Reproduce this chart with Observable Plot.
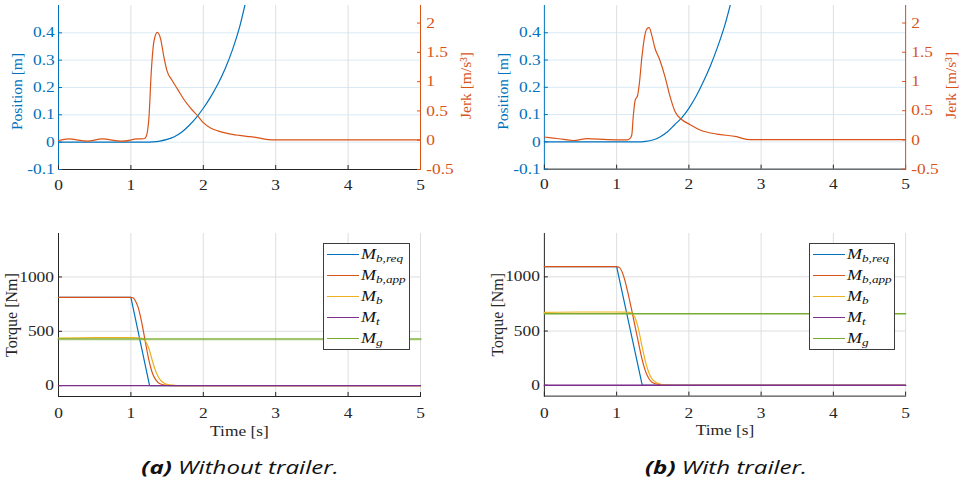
<!DOCTYPE html>
<html><head><meta charset="utf-8">
<script src="https://cdn.jsdelivr.net/npm/d3@7"></script>
<script src="https://cdn.jsdelivr.net/npm/@observablehq/plot@0.6"></script>
<style>
body{margin:0;background:#fff;}
#root{position:relative;width:965px;height:478px;overflow:hidden;font-family:"Liberation Serif",serif;background:#fff;}
#root svg, #root svg text{font-family:"Liberation Serif",serif !important;}
.pane{position:absolute;}
.legend{position:absolute;border:1px solid #3c3c3c;background:#fff;box-sizing:border-box;}
.row{position:absolute;left:0;height:21px;width:100%;}
.sw{position:absolute;left:3px;width:32px;height:1.2px;top:10px;}
.lt{position:absolute;left:37px;top:0;line-height:21px;font-family:"Liberation Serif",serif;font-style:italic;font-size:15px;color:#111;white-space:nowrap;transform:scaleX(1.2);transform-origin:left center;}
.lt sub{font-size:11px;vertical-align:-3px;}
.cap{position:absolute;font-family:"Open Sans",sans-serif;font-style:italic;font-size:18.5px;color:#111;transform:translate(-50%,-50%) scaleX(1.3);white-space:nowrap;}
</style></head><body><div id="root"></div>
<script>
// ---- colours ----
const BLUE="#0072BD", ORANGE="#D95319", YELLOW="#EDB120", PURPLE="#7E2F8E", GREEN="#77AC30";
const AXC="#262626";

// ---- ticks & domains ----
const xTicks=[0,1,2,3,4,5];
const xGrid=[1,2,3,4,5];
const posTicks=[-0.1,0,0.1,0.2,0.3,0.4];
const jerkTicks=[-0.5,0,0.5,1,1.5,2];
const torqueTicks=[0,500,1000];
const posDomain=[-0.1,0.5];
const jerkDomain=[-0.5,2.3];
const torqueDomain=[-100,1400];

// ---- (a) without trailer: position & jerk ----
const posTimeA=[0,1.2,1.3,1.4,1.5,1.6,1.7,1.8,1.9,2.0,2.1,2.2,2.3,2.4,2.5,2.6,2.7];
const posA=[0,0,0.001,0.004,0.01,0.02,0.036,0.06,0.089,0.124,0.165,0.212,0.268,0.336,0.42,0.53,0.65];
const jerkTimeA=[0,0.14,0.4,0.6,0.88,1.09,1.18,1.21,1.25,1.28,1.32,1.365,1.41,1.456,1.5,1.57,1.64,1.73,1.83,1.92,2.0,2.1,2.2,2.3,2.4,2.5,2.6,2.7,2.8,2.9,3.0,5.0];
const jerkA=[-0.005,0.022,-0.017,0.022,-0.017,0.022,0.025,0.06,0.4,1.14,1.70,1.84,1.73,1.42,1.18,1.02,0.88,0.70,0.54,0.42,0.30,0.21,0.16,0.125,0.10,0.082,0.066,0.052,0.03,0.01,0.005,0.005];

// ---- (b) with trailer: position & jerk ----
const posTimeB=[0,1.3,1.4,1.5,1.6,1.7,1.8,1.9,2.0,2.1,2.2,2.3,2.4,2.5,2.6,2.7];
const posB=[0,0,0.002,0.007,0.018,0.036,0.062,0.088,0.123,0.167,0.22,0.28,0.35,0.43,0.53,0.64];
const jerkTimeB=[0,0.2,0.4,0.59,0.87,1.14,1.19,1.21,1.23,1.257,1.29,1.315,1.35,1.386,1.418,1.45,1.487,1.533,1.6,1.67,1.74,1.81,1.9,2.02,2.155,2.385,2.66,2.8,2.9,5.0];
const jerkB=[0.05,0.02,-0.01,0.022,0.005,0.0,0.03,0.085,0.4,0.68,0.76,0.97,1.42,1.76,1.90,1.92,1.79,1.56,1.36,1.08,0.74,0.48,0.35,0.26,0.17,0.10,0.056,0.01,0.005,0.005];

// ---- (a) torques ----
const reqTimeA=[0,1.0,1.258,5];
const reqA=[813,813,0,0];
const appTimeA=[0,1.0,1.03,1.07,1.1,1.15,1.2,1.25,1.3,1.35,1.4,1.5,1.6,5];
const appA=[813,813,808,770,720,580,400,230,110,48,18,3,0,0];
const bTimeA=[0,0.5,1.0,1.1,1.15,1.2,1.25,1.3,1.35,1.4,1.45,1.5,1.6,1.7,5];
const bA=[438,441,442,440,435,410,340,220,120,58,27,12,3,0,0];
const flatTime=[0,5];
const tA=[0,0];
const gA=[428,428];

// ---- (b) torques ----
const reqTimeB=[0,1.0,1.355,5];
const reqB=[1095,1095,0,0];
const appTimeB=[0,1.0,1.04,1.1,1.15,1.2,1.25,1.3,1.35,1.4,1.45,1.5,1.6,1.7,5];
const appB=[1095,1095,1085,1000,870,720,560,400,245,128,58,24,6,0,0];
const bTimeB=[0,0.5,1.0,1.15,1.2,1.25,1.3,1.35,1.4,1.45,1.5,1.6,1.7,1.8,5];
const bB=[672,676,676,674,668,630,525,365,215,108,50,12,2,0,0];
const tB=[0,0];
const gB=[660,660];

const legendNames=[["M","b,req"],["M","b,app"],["M","b"],["M","t"],["M","g"]];
const legendColors=[BLUE,ORANGE,YELLOW,PURPLE,GREEN];
const captions=[["(a)"," Without trailer."],["(b)"," With trailer."]];

const pts=(ts,vs)=>ts.map((t,i)=>({t,v:vs[i]}));
const fmt=d=>String(d);
const root=document.getElementById("root");
const FONT="Liberation Serif";
const STRETCH=1.2;

// widen unrotated svg text around its anchor (the reference glyphs are horizontally wide)
function stretch(svg){
  svg.querySelectorAll("text").forEach(t=>{
    const tr=t.getAttribute("transform")||"";
    if(tr.includes("rotate")) return;
    const b=t.getBBox();
    const anc=getComputedStyle(t).textAnchor;
    const ax=anc==="end"?b.x+b.width:anc==="middle"?b.x+b.width/2:b.x;
    t.setAttribute("transform",`${tr} translate(${ax},0) scale(${STRETCH},1) translate(${-ax},0)`);
  });
}

function place(el,left,top){
  const w=document.createElement("div");w.className="pane";w.style.left=left+"px";w.style.top=top+"px";
  w.appendChild(el);root.appendChild(w);
  stretch(el);
}

const baseStyle={background:"transparent",fontFamily:FONT,fontSize:"14.5px",overflow:"visible"};
const lab={textAnchor:"middle",lineAnchor:"middle",fontFamily:FONT};

function topPanel(left,posT,posV,jT,jV){
  const common={width:480,height:200,marginLeft:58,marginRight:60,marginTop:5,marginBottom:31,style:baseStyle};
  const p1=Plot.plot({...common,
    x:{domain:[0,5]}, y:{domain:posDomain},
    marks:[
      Plot.gridY(posTicks,{stroke:"#d9eaf5",strokeOpacity:1}),
      Plot.gridX(xGrid,{stroke:"#dedede",strokeOpacity:1}),
      Plot.frame({anchor:"bottom",stroke:AXC}),
      Plot.frame({anchor:"left",stroke:BLUE}),
      Plot.axisX(xTicks,{tickSize:-4,tickPadding:14,color:AXC,label:null,tickFormat:fmt,fontFamily:FONT}),
      Plot.axisY(posTicks,{tickSize:-4,tickPadding:7.7,color:BLUE,label:null,tickFormat:fmt,fontFamily:FONT}),
      Plot.line(pts(posT,posV),{x:"t",y:"v",stroke:BLUE,strokeWidth:1.2,curve:"monotone-x",clip:true}),
      Plot.text(["Position [m]"],{...lab,text:d=>d,frameAnchor:"left",rotate:-90,dx:-41,dy:4,fill:BLUE,fontSize:15.5})
    ]});
  const p2=Plot.plot({...common,
    x:{domain:[0,5],axis:null}, y:{domain:jerkDomain},
    marks:[
      Plot.frame({anchor:"right",stroke:ORANGE}),
      Plot.axisY(jerkTicks,{anchor:"right",tickSize:-4,tickPadding:9.7,color:ORANGE,label:null,tickFormat:fmt,fontFamily:FONT}),
      Plot.line(pts(jT,jV),{x:"t",y:"v",stroke:ORANGE,strokeWidth:1.2,curve:"monotone-x",clip:true}),
      Plot.text(["Jerk [m/s³]"],{...lab,text:d=>d,frameAnchor:"right",rotate:-90,dx:46,dy:-2,fill:ORANGE,fontSize:15.5})
    ]});
  place(p1,left,0);
  place(p2,left,0);
}

function bottomPanel(left,req,app,mb,mt,mg,gWidth,gOpacity){
  const p=Plot.plot({width:480,height:220,marginLeft:58,marginRight:60,marginTop:13,marginBottom:44,style:baseStyle,
    x:{domain:[0,5]}, y:{domain:torqueDomain},
    marks:[
      Plot.gridY(torqueTicks,{stroke:"#dedede",strokeOpacity:1}),
      Plot.gridX(xGrid,{stroke:"#dedede",strokeOpacity:1}),
      Plot.frame({anchor:"bottom",stroke:AXC}),
      Plot.frame({anchor:"left",stroke:AXC}),
      Plot.axisX(xTicks,{tickSize:-4,tickPadding:15.7,color:AXC,label:null,tickFormat:fmt,fontFamily:FONT}),
      Plot.axisY(torqueTicks,{tickSize:-4,tickPadding:8.5,color:AXC,label:null,tickFormat:fmt,fontFamily:FONT}),
      Plot.line(req,{x:"t",y:"v",stroke:BLUE,strokeWidth:1.2}),
      Plot.line(app,{x:"t",y:"v",stroke:ORANGE,strokeWidth:1.2,curve:"monotone-x"}),
      Plot.line(mb,{x:"t",y:"v",stroke:YELLOW,strokeWidth:1.2,curve:"monotone-x"}),
      Plot.line(mt,{x:"t",y:"v",stroke:PURPLE,strokeWidth:1.4}),
      Plot.line(mg,{x:"t",y:"v",stroke:GREEN,strokeWidth:gWidth,strokeOpacity:gOpacity}),
      Plot.text(["Time [s]"],{...lab,text:d=>d,frameAnchor:"bottom",dy:34.7,fill:AXC,fontSize:14.5}),
      Plot.text(["Torque [Nm]"],{...lab,text:d=>d,frameAnchor:"left",rotate:-90,dx:-47,fill:AXC,fontSize:16})
    ]});
  place(p,left,220);
}

function legend(left,top,width){
  const box=document.createElement("div");box.className="legend";
  box.style.left=left+"px";box.style.top=top+"px";box.style.width=width+"px";box.style.height="107px";
  legendNames.forEach(([m,s],i)=>{
    const r=document.createElement("div");r.className="row";r.style.top=(i*21)+"px";
    const sw=document.createElement("div");sw.className="sw";sw.style.background=legendColors[i];
    const t=document.createElement("div");t.className="lt";
    t.innerHTML=m+"<sub>"+s+"</sub>";
    r.appendChild(sw);r.appendChild(t);box.appendChild(r);
  });
  root.appendChild(box);
}

function caption(cx,cy,[a,b]){
  const c=document.createElement("div");c.className="cap";
  c.style.left=cx+"px";c.style.top=cy+"px";
  c.innerHTML="<b>"+a+"</b>"+b;
  root.appendChild(c);
}

topPanel(0,posTimeA,posA,jerkTimeA,jerkA);
topPanel(486,posTimeB,posB,jerkTimeB,jerkB);
bottomPanel(0,pts(reqTimeA,reqA),pts(appTimeA,appA),pts(bTimeA,bA),pts(flatTime,tA),pts(flatTime,gA),2.4,0.7);
bottomPanel(486,pts(reqTimeB,reqB),pts(appTimeB,appB),pts(bTimeB,bB),pts(flatTime,tB),pts(flatTime,gB),1.5,1);
legend(323,243,87);
legend(809,243,86);
caption(240,466,captions[0]);
caption(726,466,captions[1]);
</script></body></html>
